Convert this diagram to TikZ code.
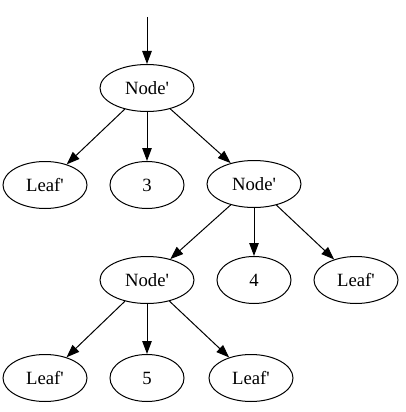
\documentclass[tikz,border=0pt]{standalone}
\usepackage{fontspec}
\setmainfont{Liberation Serif}
\usetikzlibrary{shapes.geometric}
\usetikzlibrary{arrows.meta}

\tikzset{
    tnode/.style={ellipse, draw, line width=1pt, inner sep=0pt, minimum height=47pt, font=\fontsize{18.7}{22}\selectfont},
    nodebox/.style={tnode, minimum width=94pt},
    leafbox/.style={tnode, minimum width=84pt},
    numbox/.style={tnode, minimum width=74pt},
    edge/.style={line width=1pt, -{Triangle[length=13pt, width=9.5pt]}}
}

\begin{document}
\begin{tikzpicture}[x=1pt, y=-1pt]
    \useasboundingbox (0, 0) rectangle (406, 412);

    \coordinate (start) at (147, 17);

    \node [nodebox] (n1) at (147, 88) {Node\textquotesingle};

    \node [leafbox] (l1) at (45, 185) {Leaf\textquotesingle};
    \node [numbox] (k3) at (147, 185) {3};
    \node [nodebox] (n2) at (254, 184) {Node\textquotesingle};

    \node [nodebox] (n3) at (147, 280) {Node\textquotesingle};
    \node [numbox] (k4) at (254, 280) {4};
    \node [leafbox] (l2) at (356, 280) {Leaf\textquotesingle};

    \node [leafbox] (l3) at (45, 378) {Leaf\textquotesingle};
    \node [numbox] (k5) at (147, 378) {5};
    \node [leafbox] (l4) at (251, 378) {Leaf\textquotesingle};

    \draw [edge] (start) -- (n1);
    \draw [edge] (n1) -- (l1);
    \draw [edge] (n1) -- (k3);
    \draw [edge] (n1) -- (n2);
    \draw [edge] (n2) -- (n3);
    \draw [edge] (n2) -- (k4);
    \draw [edge] (n2) -- (l2);
    \draw [edge] (n3) -- (l3);
    \draw [edge] (n3) -- (k5);
    \draw [edge] (n3) -- (l4);
\end{tikzpicture}
\end{document}
